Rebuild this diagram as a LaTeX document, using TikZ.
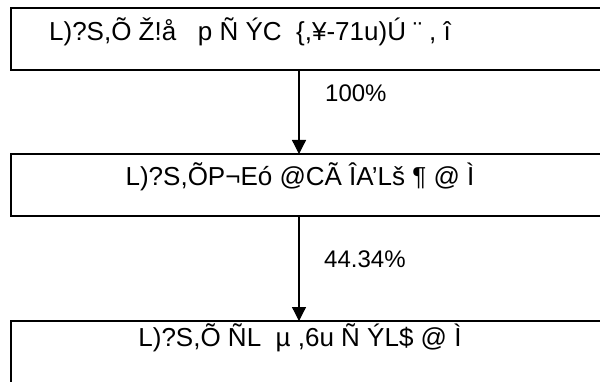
\documentclass[tikz,border=0pt]{standalone}
\usepackage{fontspec}
\setmainfont{Liberation Sans}
\usetikzlibrary{arrows.meta}
\tikzset{
  boxst/.style={draw, line width=2pt, inner sep=0pt, outer sep=0pt, minimum width=620pt, anchor=north west},
  txt/.style={font=\fontsize{26}{30}\selectfont, inner sep=0pt, anchor=base},
  lbl/.style={font=\fontsize{24}{28}\selectfont, inner sep=0pt, anchor=base west},
  flow/.style={line width=1.3pt, -{Triangle[length=14pt,width=14pt]}}
}
\begin{document}
\begin{tikzpicture}[x=1pt,y=1pt]
\clip (0,0) rectangle (600,-382);
\fill[white] (0,0) rectangle (600,-382);
\node[boxst, minimum height=62pt] (b1) at (10.5,-8.5) {};
\node[boxst, minimum height=62.5pt] (b2) at (10.5,-154) {};
\node[boxst, minimum height=64pt] (b3) at (10.5,-321) {};
\coordinate (ax) at (299,0);
\node[txt] (t1) at (250,-41) {L)?S,Õ Ž!å \ \ p Ñ ÝC \ \{,¥-71u)Ú ¨ , î};
\node[txt] (t2) at (300,-186) {L)?S,ÕP¬Eó @CÃ ÎA’Lš ¶ @ Ì};
\node[txt] (t3) at (300,-346) {L)?S,Õ ÑL \ µ ,6u Ñ ÝL\$ @ Ì};
\draw[flow] (b1.south -| ax) -- (b2.north -| ax);
\draw[flow] (b2.south -| ax) -- (b3.north -| ax);
\node[lbl] (l1) at (325,-101.7) {100\%};
\node[lbl] (l2) at (324,-268) {44.34\%};
\end{tikzpicture}
\end{document}
